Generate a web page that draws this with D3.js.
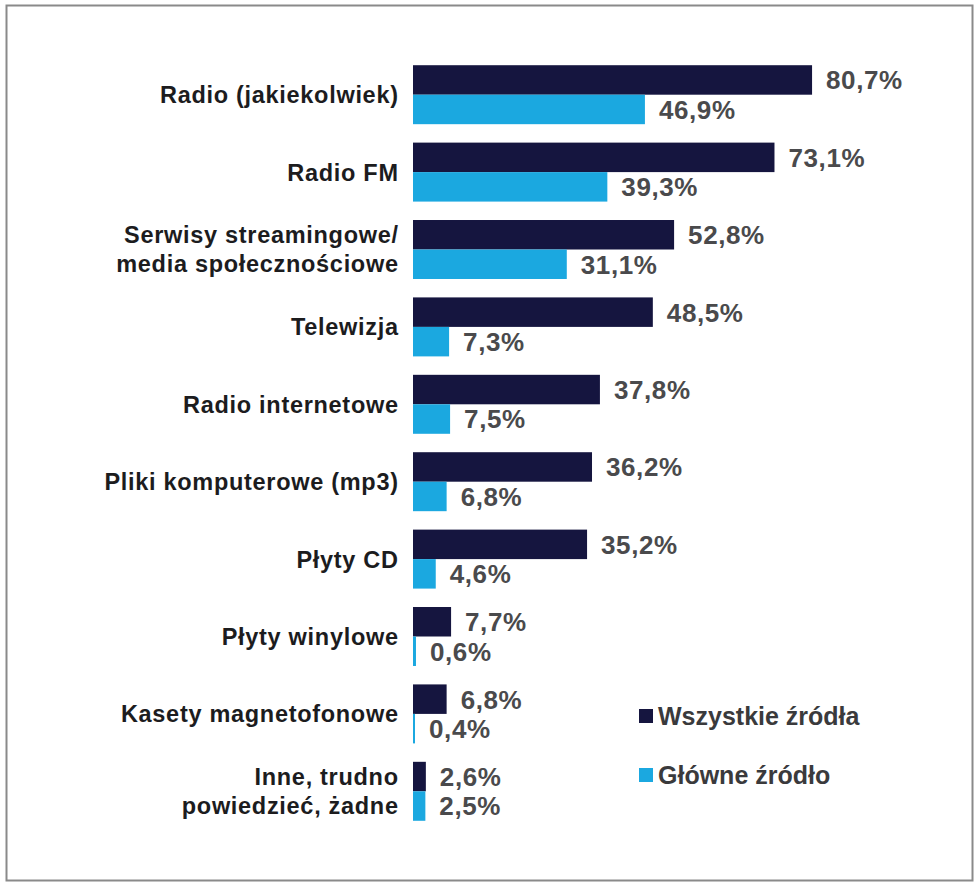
<!DOCTYPE html>
<html>
<head>
<meta charset="utf-8">
<script src="https://cdn.jsdelivr.net/npm/d3@7"></script>
<style>
  body { margin: 0; background: #fff; }
  svg text { font-family: "Liberation Sans", Arial, sans-serif; font-weight: bold; }
</style>
</head>
<body>
<div id="chart"></div>
<script>
// data
var categories = [
  "Radio (jakiekolwiek)",
  "Radio FM",
  "Serwisy streamingowe/|media społecznościowe",
  "Telewizja",
  "Radio internetowe",
  "Pliki komputerowe (mp3)",
  "Płyty CD",
  "Płyty winylowe",
  "Kasety magnetofonowe",
  "Inne, trudno|powiedzieć, żadne"
];
var allSources = [80.7, 73.1, 52.8, 48.5, 37.8, 36.2, 35.2, 7.7, 6.8, 2.6];
var mainSource = [46.9, 39.3, 31.1, 7.3, 7.5, 6.8, 4.6, 0.6, 0.4, 2.5];
var seriesNames = ["Wszystkie źródła", "Główne źródło"];
var seriesColors = ["#15153f", "#1ba8e0"];

var width = 974, height = 888;

var svg = d3.select('#chart')
  .append('svg')
  .attr('width', width)
  .attr('height', height);

// frame
svg.append('rect')
  .attr('x', 6.5).attr('y', 5.5)
  .attr('width', 966).attr('height', 875)
  .attr('fill', 'none')
  .attr('stroke', '#8a8a8a')
  .attr('stroke-width', 2);

var x = d3.scaleLinear().domain([0, 100]).range([413, 413 + 494.5]);

var y = d3.scaleBand()
  .domain(categories)
  .range([56, 56 + 77.4 * categories.length])
  .paddingInner(0.238)
  .paddingOuter(0.119);

var sub = d3.scaleBand().domain([0, 1]).range([0, y.bandwidth()]);

var fmt = function(v) { return v.toFixed(1).replace('.', ',') + '%'; };

var groups = svg.selectAll('g.group')
  .data(categories)
  .enter()
  .append('g')
  .attr('class', 'group')
  .attr('transform', function(d) { return 'translate(0,' + y(d) + ')'; });

[allSources, mainSource].forEach(function(series, s) {
  groups.append('rect')
    .attr('x', x(0))
    .attr('y', sub(s))
    .attr('width', function(d, i) { return Math.max(x(series[i]) - x(0), 2); })
    .attr('height', sub.bandwidth())
    .attr('fill', seriesColors[s]);

  groups.append('text')
    .attr('x', function(d, i) { return Math.max(x(series[i]), x(0) + 2) + 14; })
    .attr('y', sub(s) + sub.bandwidth() / 2)
    .attr('dy', '0.36em')
    .attr('font-size', 26)
    .attr('letter-spacing', 0.6)
    .attr('fill', '#4a4a4c')
    .text(function(d, i) { return fmt(series[i]); });
});

// category labels
groups.each(function(d) {
  var lines = d.split('|');
  var t = d3.select(this).append('text')
    .attr('text-anchor', 'end')
    .attr('font-size', 23.5)
    .attr('letter-spacing', 0.7)
    .attr('fill', '#1c1c1e');
  lines.forEach(function(line, k) {
    t.append('tspan')
      .attr('x', 398.7)
      .attr('y', y.bandwidth() / 2 + (k - (lines.length - 1) / 2) * 29)
      .attr('dy', '0.36em')
      .text(line);
  });
});

// legend
var legend = svg.selectAll('g.legend')
  .data(seriesNames)
  .enter()
  .append('g')
  .attr('class', 'legend')
  .attr('transform', function(d, i) { return 'translate(639,' + (716 + i * 59) + ')'; });

legend.append('rect')
  .attr('x', 0).attr('y', -7)
  .attr('width', 14).attr('height', 14)
  .attr('fill', function(d, i) { return seriesColors[i]; });

legend.append('text')
  .attr('x', 19)
  .attr('y', 0)
  .attr('dy', '0.36em')
  .attr('font-size', 25)
  .attr('fill', '#3a3a3c')
  .text(function(d) { return d; });
</script>
</body>
</html>
